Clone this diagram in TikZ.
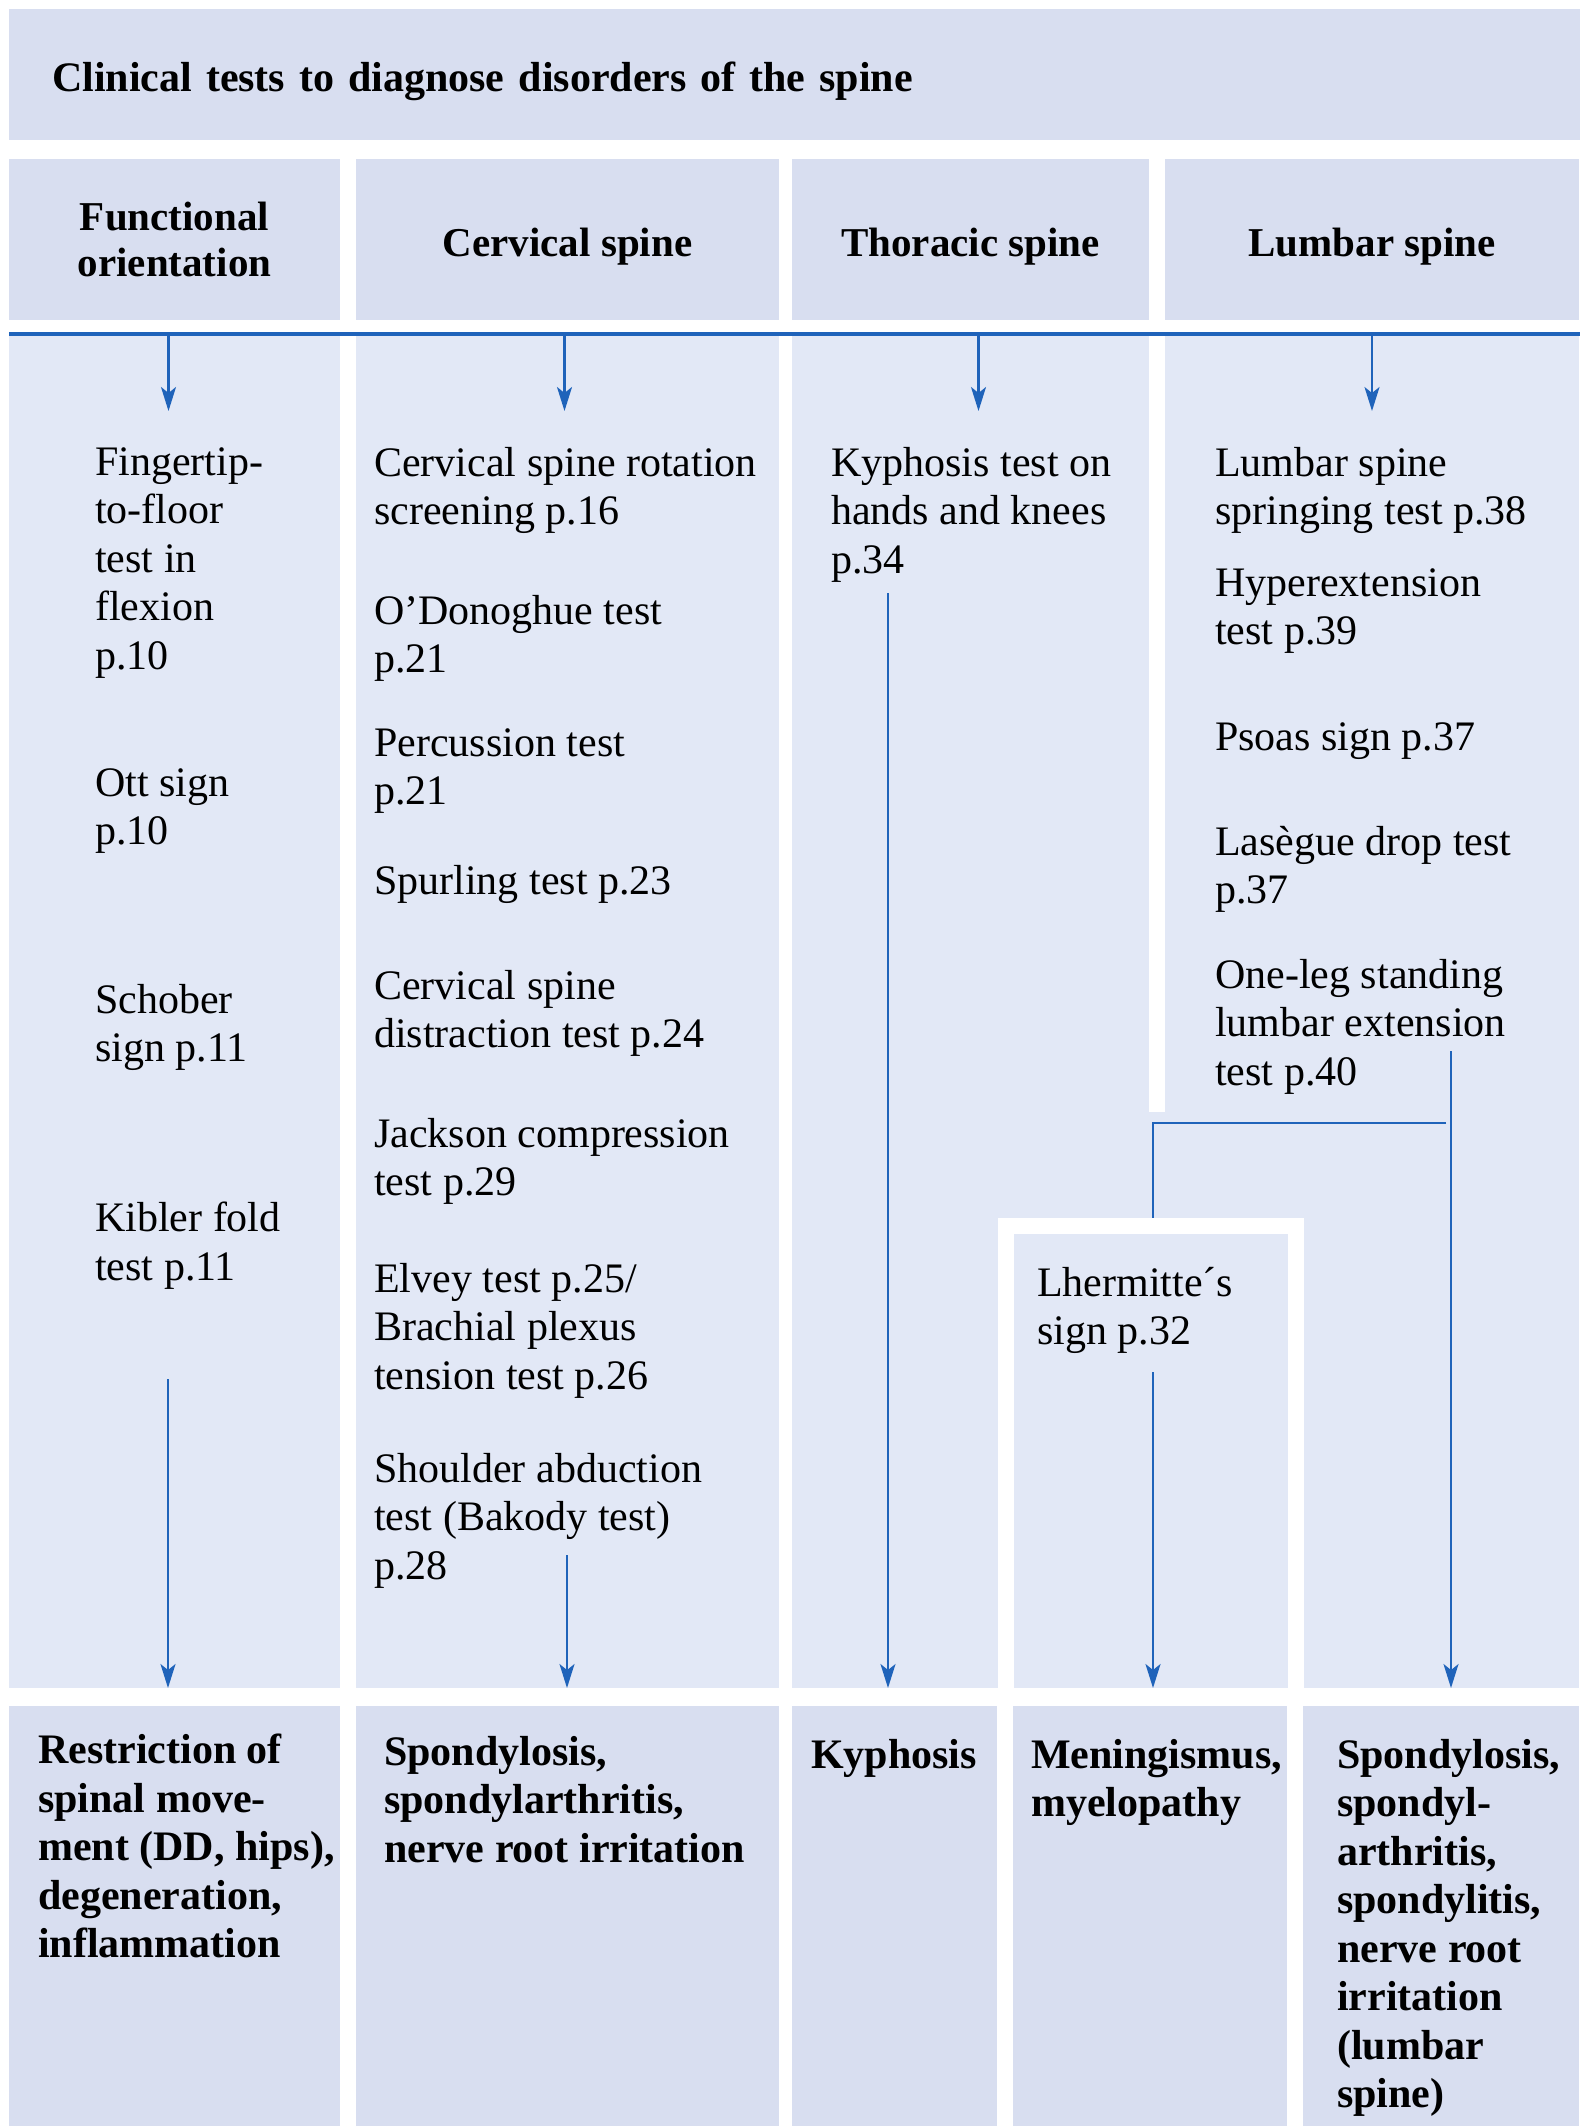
\documentclass[tikz,border=0pt]{standalone}
\usepackage{fontspec}
\setmainfont{Liberation Serif}
\usepackage{xcolor}
\usepackage{tikz}
\usetikzlibrary{arrows.meta, positioning}

\definecolor{headfill}{RGB}{216,222,240}
\definecolor{bodyfill}{RGB}{226,232,246}
\definecolor{flowblue}{RGB}{31,99,186}

\newcommand{\fnTitle}{\fontsize{42}{50}\selectfont\bfseries}
\newcommand{\fnHead}{\fontsize{41}{46}\selectfont\bfseries}
\newcommand{\fnTest}{\fontsize{42}{48.5}\selectfont}
\newcommand{\fnFind}{\fontsize{42}{48.5}\selectfont\bfseries}

\begin{document}
\begin{tikzpicture}[
    x=1pt, y=-1pt,
    node distance=16pt,
    panel/.style={rectangle, inner sep=0pt, outer sep=0pt},
    header/.style={panel, fill=headfill, minimum height=161pt, align=center, font=\fnHead},
    oneline/.style={text height=34pt, text depth=0pt},
    column/.style={panel, fill=bodyfill, minimum height=1352pt},
    outcome/.style={panel, fill=headfill, minimum height=420pt},
    test/.style={anchor=north west, inner sep=0pt, align=left, font=\fnTest},
    finding/.style={anchor=north west, inner sep=0pt, align=left, font=\fnFind},
    ruleline/.style={draw=flowblue, line width=3.5pt},
    linkline/.style={draw=flowblue, line width=2.2pt},
    flow/.style={linkline, -{Stealth[length=24pt, width=15pt, inset=6pt]}}
]
\useasboundingbox (0,0) rectangle (1588,2126);

% title bar
\node[panel, oneline, fill=headfill, minimum width=1571pt, minimum height=131pt, text width=1485pt,
      align=left, font=\fnTitle, anchor=north west] (title) at (9,9)
    {Clinical tests to diagnose disorders of the spine};

% column heads
\node[header, minimum width=331pt, anchor=north west] (hFunc) at (9,159) {Functional\\orientation};
\node[header, oneline, minimum width=423pt, right=16pt of hFunc] (hCerv) {Cervical spine};
\node[header, oneline, minimum width=357pt, right=13pt of hCerv] (hThor) {Thoracic spine};
\node[header, oneline, minimum width=414pt, right=16pt of hThor] (hLumb) {Lumbar spine};

% test columns
\node[column, minimum width=331pt, below=16pt of hFunc] (cFunc) {};
\node[column, minimum width=423pt, below=16pt of hCerv] (cCerv) {};
\node[column, minimum width=357pt, below=16pt of hThor] (cThor) {};
\node[column, minimum width=414pt, below=16pt of hLumb] (cLumb) {};
\fill[bodyfill] (1148,1112) rectangle (1166,1688);

% Lhermitte box set into the merged area
\node[panel, fill=bodyfill, draw=white, line width=16pt, minimum width=290pt,
      minimum height=470pt, anchor=north west] (lherBox) at (1006,1226) {};

% outcome row
\node[outcome, minimum width=331pt, below=18pt of cFunc] (rFunc) {};
\node[outcome, minimum width=423pt, below=18pt of cCerv] (rCerv) {};
\node[outcome, minimum width=205pt, below=18pt of cThor.south west, anchor=north west] (rKyph) {};
\node[outcome, minimum width=274pt, right=16pt of rKyph] (rMen) {};
\node[outcome, minimum width=276pt, right=16pt of rMen] (rLumb) {};

% functional orientation
\node[test] (fingertip) at (95,447) {Fingertip-\\to-floor\\test in\\flexion\\p.10};
\node[test] (ott) at (95,768) {Ott sign\\p.10};
\node[test] (schober) at (95,984) {Schober\\sign p.11};
\node[test] (kibler) at (95,1202) {Kibler fold\\test p.11};

% cervical spine
\node[test] (rotation) at (374,447) {Cervical spine rotation\\screening p.16};
\node[test] (odonoghue) at (374,595) {O’Donoghue test\\p.21};
\node[test] (percussion) at (374,728) {Percussion test\\p.21};
\node[test] (spurling) at (374,865) {Spurling test p.23};
\node[test] (distraction) at (374,970) {Cervical spine\\distraction test p.24};
\node[test] (jackson) at (374,1118) {Jackson compression\\test p.29};
\node[test] (elvey) at (374,1263) {Elvey test p.25/\\Brachial plexus\\tension test p.26};
\node[test] (bakody) at (374,1453) {Shoulder abduction\\test (Bakody test)\\p.28};

% thoracic spine
\node[test] (kyphtest) at (831,447) {Kyphosis test on\\hands and knees\\p.34};
\node[test] (lhermitte) at (1037,1267) {Lhermitte´s\\sign p.32};

% lumbar spine
\node[test] (springing) at (1215,447) {Lumbar spine\\springing test p.38};
\node[test] (hyperext) at (1215,568) {Hyperextension\\test p.39};
\node[test] (psoas) at (1215,722) {Psoas sign p.37};
\node[test] (lasegue) at (1215,826) {Lasègue drop test\\p.37};
\node[test] (oneleg) at (1215,959) {One-leg standing\\lumbar extension\\test p.40};

% outcomes
\node[finding] (fFunc) at (38,1734) {Restriction of\\spinal move-\\ment (DD, hips),\\degeneration,\\inflammation};
\node[finding] (fCerv) at (384,1736) {Spondylosis,\\spondylarthritis,\\nerve root irritation};
\node[finding] (fKyph) at (811,1739) {Kyphosis};
\node[finding] (fMen) at (1031,1739) {Meningismus,\\myelopathy};
\node[finding] (fLumb) at (1337,1739) {Spondylosis,\\spondyl-\\arthritis,\\spondylitis,\\nerve root\\irritation\\(lumbar\\spine)};

% connectors
\coordinate (ruleW) at (9,334);
\coordinate (ruleE) at (1580,334);
\coordinate (tipRow) at (0,411);
\draw[ruleline] (ruleW) -- (ruleE);
\foreach \c/\dx in {Func/-6,Cerv/-3,Thor/8,Lumb/0}
    \draw[flow] ([xshift=\dx pt]h\c.south |- ruleW) -- ([xshift=\dx pt]h\c.south |- tipRow);

\coordinate (fFrom) at (168,1379);
\coordinate (cFrom) at (567,1555);
\coordinate (tFrom) at (888,593);
\coordinate (lhFrom) at (1153,1372);
\coordinate (lFrom) at (1451,1051);
\coordinate (brR) at (1446,1123);
\coordinate (brL) at (1153,1218);

\draw[flow] (fFrom) -- (fFrom |- cFunc.south);
\draw[flow] (cFrom) -- (cFrom |- cCerv.south);
\draw[flow] (tFrom) -- (tFrom |- cThor.south);
\draw[flow] (lhFrom) -- (lhFrom |- cThor.south);
\draw[flow] (lFrom) -- (lFrom |- cLumb.south);
\draw[linkline] (brR) -| (brL);

\end{tikzpicture}
\end{document}
